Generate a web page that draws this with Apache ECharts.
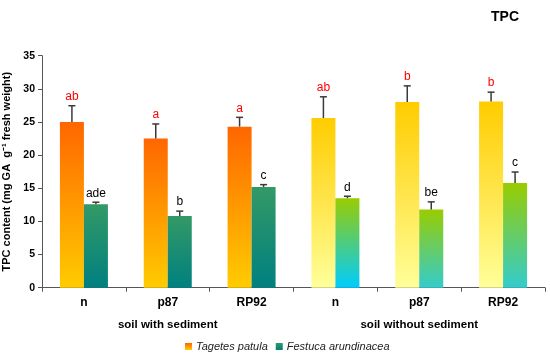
<!DOCTYPE html>
<html><head><meta charset="utf-8">
<script src="https://cdn.jsdelivr.net/npm/echarts@6/dist/echarts.min.js"></script>
<style>html,body{margin:0;padding:0;background:#fff}#c{width:550px;height:356px}</style>
</head><body><div id="c"></div>
<script>
const categories = ['n', 'p87', 'RP92', 'n', 'p87', 'RP92'];
const groups = ['soil with sediment', 'soil without sediment'];
const tagetes = [25.0, 22.5, 24.3, 25.6, 28.0, 28.1];
const tagetesErr = [2.45, 2.2, 1.4, 3.2, 2.45, 1.4];
const tagetesLetters = ['ab', 'a', 'a', 'ab', 'b', 'b'];
const festuca = [12.6, 10.8, 15.2, 13.5, 11.8, 15.8];
const festucaErr = [0.3, 0.75, 0.35, 0.3, 1.15, 1.65];
const festucaLetters = ['ade', 'b', 'c', 'd', 'be', 'c'];
const yTicks = [0, 5, 10, 15, 20, 25, 30, 35];

const G = (a, b) => new echarts.graphic.LinearGradient(0, 0, 0, 1, [{offset: 0, color: a}, {offset: 1, color: b}]);
const tagColors = [G('#FF6600','#FFCC00'),G('#FF6600','#FFCC00'),G('#FF6600','#FFCC00'),G('#FFCC00','#FFFF99'),G('#FFCC00','#FFFF99'),G('#FFCC00','#FFFF99')];
const fesColors = [G('#339966','#008080'),G('#339966','#008080'),G('#339966','#008080'),G('#99CC00','#00CCFF'),G('#99CC00','#33CCCC'),G('#99CC00','#33CCCC')];

const BW = 24;
function errSeries(name, vals, errs, letters, side, color) {
  return {
    type: 'custom', name: name + ' err', xAxisIndex: 0, yAxisIndex: 0, z: 5,
    data: vals.map((v, i) => [i, v, errs[i]]),
    encode: {x: 0, y: 1},
    renderItem: function (params, api) {
      const i = api.value(0), m = api.value(1), e = api.value(2);
      const base = api.coord([i, m]);
      const top = api.coord([i, m + e]);
      const x = base[0] + side * BW / 2;
      return {type: 'group', children: [
        {type: 'line', shape: {x1: x, y1: base[1], x2: x, y2: top[1]}, style: {stroke: '#3a3a3a', lineWidth: 1.5}},
        {type: 'line', shape: {x1: x - 3.5, y1: top[1], x2: x + 3.5, y2: top[1]}, style: {stroke: '#3a3a3a', lineWidth: 1.5}},
        {type: 'text', style: {text: letters[params.dataIndex], x: x, y: top[1] - 3, textAlign: 'center', textVerticalAlign: 'bottom', fill: color, font: '12px "Liberation Sans", Arial, sans-serif'}}
      ]};
    }
  };
}

const chart = echarts.init(document.getElementById('c'), null, {renderer: 'canvas'});
chart.setOption({
  animation: false,
  textStyle: {fontFamily: '"Liberation Sans", Arial, sans-serif'},
  title: {text: 'TPC', right: 26, top: 5, textStyle: {fontSize: 14, fontWeight: 'bold', color: '#000'}},
  grid: {left: 42, right: 5, top: 55.7, bottom: 68.3, outerBoundsMode: 'none', containLabel: false},
  legend: {
    data: ['Tagetes patula', 'Festuca arundinacea'], top: 336, left: 180,
    itemWidth: 7, itemHeight: 7, itemGap: 8, icon: 'rect',
    textStyle: {fontStyle: 'italic', fontSize: 11, color: '#222', padding: [0, 0, 0, -1]}
  },
  xAxis: [{
    type: 'category', data: categories, position: 'bottom',
    axisLine: {lineStyle: {color: '#555', width: 1}},
    axisTick: {show: true, length: 4, inside: false, alignWithLabel: false, lineStyle: {color: '#555'}},
    axisLabel: {fontWeight: 'bold', fontSize: 12, color: '#000', margin: 9}
  }, {
    type: 'category', data: groups, position: 'bottom', offset: 21,
    axisLine: {show: false}, axisTick: {show: false},
    axisLabel: {fontWeight: 'bold', fontSize: 11.5, color: '#000', margin: 10}
  }],
  yAxis: {
    type: 'value', min: 0, max: 35, interval: 5,
    name: 'TPC content (mg GA  g\u207B\u00B9 fresh weight)', nameLocation: 'middle', nameGap: 23,
    nameTextStyle: {fontWeight: 'bold', fontSize: 11, color: '#000'},
    axisLine: {show: true, lineStyle: {color: '#555'}},
    axisTick: {show: true, length: 4, lineStyle: {color: '#555'}},
    axisLabel: {fontWeight: 'bold', fontSize: 10.5, color: '#000', margin: 7,
      formatter: v => yTicks.includes(v) ? String(v) : ''},
    splitLine: {show: false}
  },
  series: [
    {name: 'Tagetes patula', type: 'bar', barWidth: BW, barGap: '0%', xAxisIndex: 0,
      itemStyle: {color: G('#FF6600', '#FFCC00')},
      data: tagetes.map((v, i) => ({value: v, itemStyle: {color: tagColors[i]}}))},
    {name: 'Festuca arundinacea', type: 'bar', barWidth: BW, barGap: '0%', xAxisIndex: 0,
      itemStyle: {color: G('#339966', '#008080')},
      data: festuca.map((v, i) => ({value: v, itemStyle: {color: fesColors[i]}}))},
    errSeries('Tagetes patula', tagetes, tagetesErr, tagetesLetters, -1, '#FF0000'),
    errSeries('Festuca arundinacea', festuca, festucaErr, festucaLetters, 1, '#000')
  ]
});
</script></body></html>
